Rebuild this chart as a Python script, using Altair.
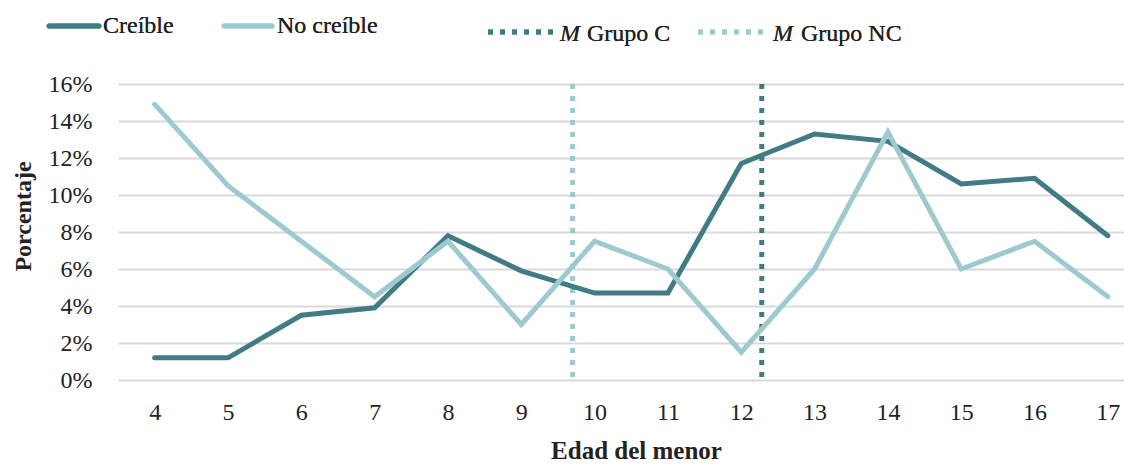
import altair as alt
import pandas as pd

edades = [4, 5, 6, 7, 8, 9, 10, 11, 12, 13, 14, 15, 16, 17]
creible = [1.2, 1.2, 3.5, 3.9, 7.8, 5.9, 4.7, 4.7, 11.7, 13.3, 12.9, 10.6, 10.9, 7.8]
no_creible = [14.9, 10.5, 7.5, 4.5, 7.5, 3.0, 7.5, 6.0, 1.5, 6.0, 13.4, 6.0, 7.5, 4.5]
series = ["Creíble", "No creíble"]
medias = [12.28, 9.70]
medias_grupo = ["M Grupo C", "M Grupo NC"]

DARK = "#417c84"
LIGHT = "#9ccacf"
FONT = "Liberation Serif"

rows = []
for e, c, n in zip(edades, creible, no_creible):
    rows.append({"edad": e, "pct": c / 100, "serie": series[0]})
    rows.append({"edad": e, "pct": n / 100, "serie": series[1]})
df = pd.DataFrame(rows)
df_m = pd.DataFrame({"x": medias, "grupo": medias_grupo})

xscale = alt.Scale(domain=[3.5, 17.22], nice=False, zero=False)
yscale = alt.Scale(domain=[0, 0.16], nice=False)

lines = alt.Chart(df).mark_line(strokeWidth=5, strokeCap="round").encode(
    x=alt.X("edad:Q", scale=xscale,
            axis=alt.Axis(values=edades, format="d", title="Edad del menor",
                          grid=False, domain=False, ticks=False,
                          labelPadding=20, titlePadding=14, titleX=518,
                          labelFontSize=24, titleFontSize=25,
                          labelFont=FONT, titleFont=FONT,
                          labelColor="#222", titleColor="#222",
                          titleFontWeight="bold")),
    y=alt.Y("pct:Q", scale=yscale,
            axis=alt.Axis(values=[0, 0.02, 0.04, 0.06, 0.08, 0.1, 0.12, 0.14, 0.16],
                          format=".0%", title="Porcentaje",
                          grid=True, gridColor="#d9d9d9", gridWidth=2,
                          domain=False, ticks=False, labelPadding=26,
                          titlePadding=13, titleY=132,
                          labelFontSize=24, titleFontSize=24,
                          labelFont=FONT, titleFont=FONT,
                          labelColor="#222", titleColor="#222",
                          titleFontWeight="bold")),
    color=alt.Color("serie:N", scale=alt.Scale(domain=series, range=[DARK, LIGHT]), legend=None),
    detail="serie:N",
)

rules = alt.Chart(df_m).mark_rule(strokeWidth=5, strokeDash=[5, 7], strokeCap="butt").encode(
    x=alt.X("x:Q", scale=xscale),
    color=alt.Color("grupo:N", scale=alt.Scale(domain=medias_grupo, range=[DARK, LIGHT]), legend=None),
)

# Hand-made legend (pixel offsets relative to plot area)
def leg_line(x1, x2, y, color, dash=None):
    kw = dict(strokeWidth=5, color=color)
    if dash:
        kw.update(strokeDash=dash, strokeCap="butt")
    else:
        kw.update(strokeCap="round")
    return alt.Chart(df_m).mark_rule(**kw).encode(
        x=alt.value(x1), x2=alt.value(x2), y=alt.value(y))

def leg_text(txt, x, y, italic=False):
    return alt.Chart(df_m).mark_text(
        text=txt, align="left", baseline="middle", font=FONT, fontSize=24,
        fontStyle="italic" if italic else "normal", color="#222"
    ).encode(x=alt.value(x), y=alt.value(y))

legend = [
    leg_line(-69, -19, -58, DARK),
    leg_text("Creíble", -15, -58),
    leg_line(106, 154, -58, LIGHT),
    leg_text("No creíble", 159, -58),
    leg_line(370, 437, -52, DARK, [5, 7]),
    leg_text("M", 442, -50, True),
    leg_text("Grupo C", 469, -50),
    leg_line(580, 647, -52, LIGHT, [5, 7]),
    leg_text("M", 655, -50, True),
    leg_text("Grupo NC", 683, -50),
]

chart = alt.layer(rules, lines, *legend).properties(
    width=1006, height=296,
    autosize=alt.AutoSizeParams(type="none"),
    padding={"left": 110, "top": 76, "right": 0, "bottom": 82},
).configure_view(stroke=None)

chart.save("out.html", embed_options={"renderer": "svg", "actions": False})
